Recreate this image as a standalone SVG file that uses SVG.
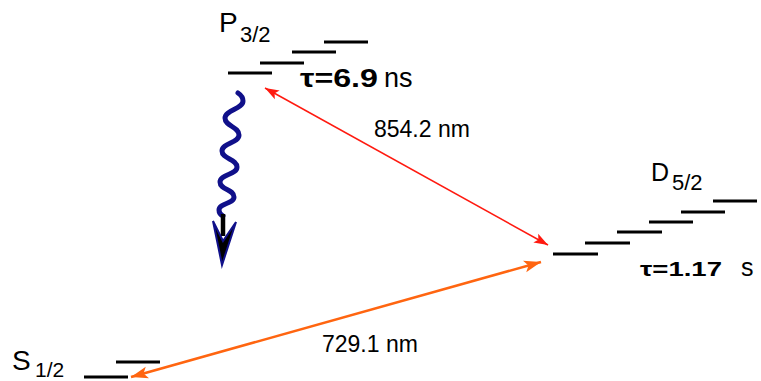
<svg xmlns="http://www.w3.org/2000/svg" width="761" height="381" viewBox="0 0 761 381">
<style>
.lvl{stroke:#000;stroke-width:3;fill:none}
.t{font-family:"Liberation Sans",Arial,sans-serif;fill:#000}
.b{font-weight:bold}
</style>
<defs>
<marker id="ar" markerUnits="userSpaceOnUse" markerWidth="16" markerHeight="12" refX="14" refY="5" orient="auto-start-reverse" viewBox="0 0 16 10">
<path d="M0,0 L14,5 L0,10 L3,5 Z" fill="#ff1a10"/>
</marker>
<marker id="ao" markerUnits="userSpaceOnUse" markerWidth="18" markerHeight="14" refX="17" refY="6" orient="auto-start-reverse" viewBox="0 0 18 12">
<path d="M0,0 L17,6 L0,12 L4,6 Z" fill="#ff6510"/>
</marker>
</defs>
<g id="connectors">
<line x1="265" y1="88" x2="548" y2="245" stroke="#ff1a10" stroke-width="1.5" marker-start="url(#ar)" marker-end="url(#ar)"/>
<line x1="131" y1="377" x2="541" y2="262" stroke="#ff6510" stroke-width="2.6" marker-start="url(#ao)" marker-end="url(#ao)"/>
<g id="decay">
<path d="M238,93 C241,95 243,98 243,101 C243,109 225,110 225,118 C225,126 239,127 239,135 C239,143 222,143 222,151 C222,159 237,159 237,167 C237,175 220,174 220,182 C220,190 234,189 234,197 C234,204 219,203 219,210 C219,213 221,215 223,216" fill="none" stroke="#10108a" stroke-width="5" stroke-linecap="round"/>
<line x1="223" y1="214" x2="223" y2="236" stroke="#000" stroke-width="4.5"/>
<polygon points="213,221 223,241 236,222 222,265" fill="#000" stroke="#10108a" stroke-width="2" stroke-linejoin="miter"/>
</g>
</g>
<g id="P32">
<text class="t" x="219" y="32" font-size="28">P</text>
<text class="t" x="240" y="42" font-size="22">3/2</text>
<line class="lvl" x1="228" y1="73" x2="272" y2="73"/>
<line class="lvl" x1="260" y1="63" x2="304" y2="63"/>
<line class="lvl" x1="292" y1="52" x2="336" y2="52"/>
<line class="lvl" x1="324" y1="42" x2="368" y2="42"/>
<text class="t b" x="300" y="87" font-size="25" textLength="78" lengthAdjust="spacingAndGlyphs">τ=6.9</text>
<text class="t" x="384" y="87" font-size="27">ns</text>
</g>
<g id="D52">
<text class="t" x="651" y="181" font-size="25">D</text>
<text class="t" x="672" y="190" font-size="22">5/2</text>
<line class="lvl" x1="553" y1="254" x2="598" y2="254"/>
<line class="lvl" x1="585" y1="243" x2="630" y2="243"/>
<line class="lvl" x1="617" y1="232" x2="662" y2="232"/>
<line class="lvl" x1="649" y1="222" x2="693" y2="222"/>
<line class="lvl" x1="681" y1="212" x2="725" y2="212"/>
<line class="lvl" x1="713" y1="201" x2="757" y2="201"/>
<text class="t b" x="640" y="276" font-size="21" textLength="82" lengthAdjust="spacingAndGlyphs">τ=1.17</text>
<text class="t" x="741" y="276" font-size="25">s</text>
</g>
<g id="S12">
<text class="t" x="12" y="370" font-size="28">S</text>
<text class="t" x="35" y="377" font-size="21">1/2</text>
<line class="lvl" x1="84" y1="377" x2="128" y2="377"/>
<line class="lvl" x1="116" y1="362" x2="160" y2="362"/>
</g>
<g id="labels">
<text class="t" x="374" y="137" font-size="23">854.2 nm</text>
<text class="t" x="322" y="352" font-size="23">729.1 nm</text>
</g>
</svg>
